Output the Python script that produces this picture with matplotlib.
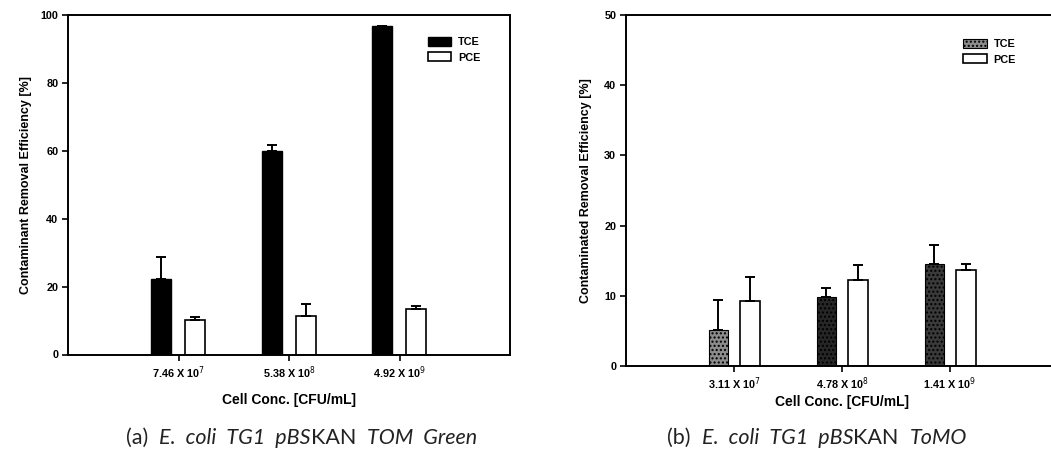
import numpy as np
import matplotlib
matplotlib.use('Agg')
import matplotlib.pyplot as plt

plt.rcParams['font.family'] = ['Liberation Sans', 'DejaVu Sans']

groups = [1, 2, 3]

# panel (a) TOM Green
labels_a = ['7.46 X 10$^{7}$', '5.38 X 10$^{8}$', '4.92 X 10$^{9}$']
tce_a = [22.3, 60.0, 96.8]
tce_a_err = [6.3, 1.8, 0.0]
pce_a = [10.3, 11.2, 13.3]
pce_a_err = [0.8, 3.8, 0.9]

# panel (b) ToMO
labels_b = ['3.11 X 10$^{7}$', '4.78 X 10$^{8}$', '1.41 X 10$^{9}$']
tce_b = [5.1, 9.8, 14.5]
tce_b_err = [4.3, 1.3, 2.8]
pce_b = [9.2, 12.3, 13.7]
pce_b_err = [3.5, 2.1, 0.8]
tce_b_colors = ['#8c8c8c', '#262626', '#3a3a3a']

W, H = 1051, 459
fig = plt.figure(figsize=(W / 100, H / 100), dpi=100)


def px_axes(x0, x1, y_top, y_bot):
    return fig.add_axes([x0 / W, (H - y_bot) / H, (x1 - x0) / W, (y_bot - y_top) / H])


def style_axes(ax, ymax, step, labels, right_spine):
    ax.set_xlim(0, 4)
    ax.set_ylim(0, ymax)
    ax.set_yticks(np.arange(0, ymax + 1, step))
    ax.set_xticks(groups)
    ax.set_xticklabels(labels)
    ax.tick_params(direction='out', length=4, width=1.2, labelsize=7.8, pad=3)
    for lab in ax.get_xticklabels() + ax.get_yticklabels():
        lab.set_fontweight('bold')
    for s in ax.spines.values():
        s.set_linewidth(1.4)
    ax.spines['right'].set_visible(right_spine)


x = np.array(groups, dtype=float)
bw = 0.18
err_kw = dict(elinewidth=1.4, capsize=3.5, capthick=1.4, ecolor='black')
leg_kw = dict(frameon=False, prop={'size': 7.8, 'weight': 'bold'}, handlelength=2.2,
              handleheight=0.9, labelspacing=0.5, handletextpad=0.6)

# ---- panel a
ax1 = px_axes(68, 510, 15, 354.5)
ax1.bar(x - 0.155, tce_a, bw, color='black', edgecolor='black', label='TCE',
        yerr=[np.zeros(3), tce_a_err], error_kw=err_kw)
ax1.bar(x + 0.15, pce_a, bw, color='white', edgecolor='black', linewidth=1.2, label='PCE',
        yerr=[np.zeros(3), pce_a_err], error_kw=err_kw)
style_axes(ax1, 100, 20, labels_a, True)
ax1.set_ylabel('Contaminant Removal Efficiency [%]', fontsize=9, fontweight='bold', labelpad=6)
ax1.set_xlabel('Cell Conc. [CFU/mL]', fontsize=10, fontweight='bold', labelpad=9)
ax1.legend(loc='upper right', bbox_to_anchor=(0.955, 0.965), **leg_kw)

# ---- panel b
ax2 = px_axes(626, 1058, 15, 366)
ax2.bar(x - 0.145, tce_b, bw, color=tce_b_colors, edgecolor='black', linewidth=0.8,
        hatch='....', label='TCE', yerr=[np.zeros(3), tce_b_err], error_kw=err_kw)
ax2.bar(x + 0.15, pce_b, bw, color='white', edgecolor='black', linewidth=1.2, label='PCE',
        yerr=[np.zeros(3), pce_b_err], error_kw=err_kw)
style_axes(ax2, 50, 10, labels_b, False)
ax2.set_ylabel('Contaminated Removal Efficiency [%]', fontsize=9, fontweight='bold', labelpad=9)
ax2.set_xlabel('Cell Conc. [CFU/mL]', fontsize=10, fontweight='bold', labelpad=2)
ax2.legend(loc='upper right', bbox_to_anchor=(0.925, 0.96), **leg_kw)


# captions with mixed italic pieces
def caption(x0, y, pieces):
    renderer = fig.canvas.get_renderer()
    xpos = x0
    for txt, style in pieces:
        t = fig.text(xpos / W, (H - y) / H, txt, fontsize=15.5, style=style,
                     family=['Lato', 'DejaVu Sans'], va='center', ha='left', color='#222222')
        bb = t.get_window_extent(renderer)
        xpos += bb.width


caption(126, 438, [('(a)  ', 'normal'), ('E.  coli  TG1  pBS', 'italic'), ('KAN  ', 'normal'),
                   ('TOM  Green', 'italic')])
caption(667, 438, [('(b)  ', 'normal'), ('E.  coli  TG1  pBS', 'italic'), ('KAN  ', 'normal'),
                   ('ToMO', 'italic')])

fig.savefig('out.png', dpi=100)
